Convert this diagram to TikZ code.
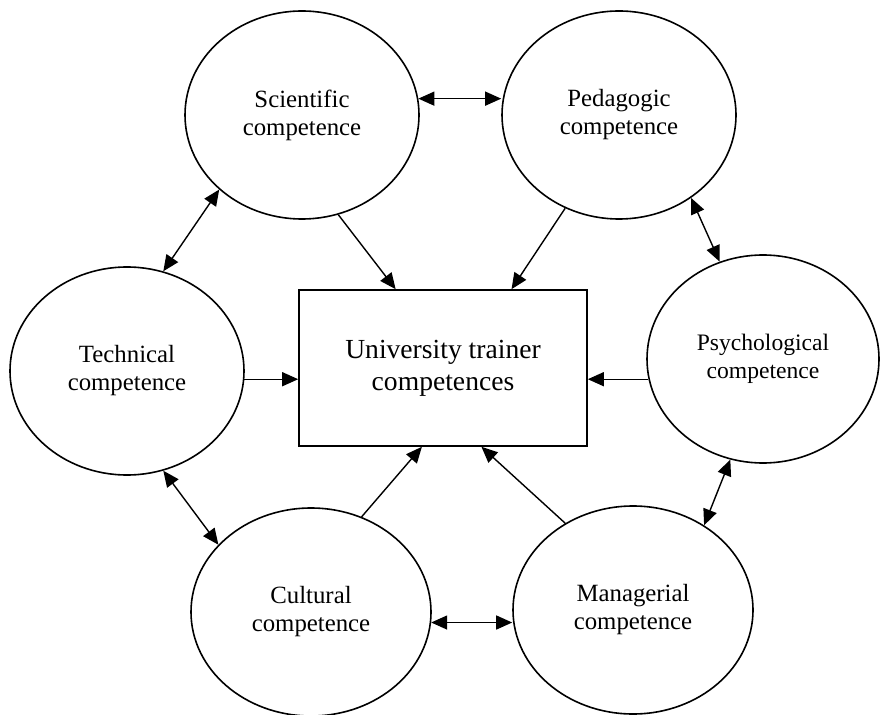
\documentclass[tikz,border=0pt]{standalone}
\usepackage{fontspec}
\setmainfont{Liberation Serif}
\usetikzlibrary{shapes.geometric,arrows.meta,calc}

\begin{document}
\begin{tikzpicture}[x=0.5pt, y=-0.5pt, >={Triangle[length=8pt,width=7pt]}]
				\tikzstyle{every node}=[align=center, inner sep=0pt]
				\tikzstyle{competence}=[draw, ellipse, line width=0.8pt, minimum width=117pt, minimum height=104pt, font=\fontsize{12.4}{14}\selectfont]
				\tikzstyle{link}=[line width=0.7pt]
				\useasboundingbox (0,0) rectangle (881,715);
				%Centre
				\node[draw, line width=0.8pt, minimum width=144pt, minimum height=78pt, font=\fontsize{13.8}{16}\selectfont](trainer) at (443,368){University trainer\\competences};
				%Top Row
				\node[competence](sci) at (302,115){Scientific\\competence};
				\node[competence](ped) at (619,115){Pedagogic\\competence};
				%Middle Row
				\node[competence](tech) at (127,371){Technical\\competence};
				\node[competence, minimum width=116pt, font=\fontsize{11.8}{14}\selectfont](psy) at (763,359){Psychological\\competence};
				%Bottom Row
				\node[competence, minimum width=120pt](cult) at (311,612){Cultural\\competence};
				\node[competence, minimum width=120pt](man) at (633,610){Managerial\\competence};
				%Ring
				\draw[link, <->] (sci.8) -- (sci.8 -| ped.west);
				\draw[link, <->] (ped.-49.5) -- (psy.114);
				\draw[link, <->] (psy.252) -- (man.50.5);
				\draw[link, <->] (cult.-5.7) -- (cult.-5.7 -| man.west);
				\draw[link, <->] (tech.-70) -- (cult.144.5);
				\draw[link, <->] (tech.70) -- (sci.-138);
				%Into the centre
				\draw[link, ->] (sci.-70.3) -- (trainer.121.6);
				\draw[link, ->] (ped.240) -- (trainer.49.3);
				\draw[link, ->] (tech.-4.4) -- (tech.-4.4 -| trainer.west);
				\draw[link, ->] (psy.190.5) -- (psy.190.5 -| trainer.east);
				\draw[link, ->] (cult.62) -- (trainer.255);
				\draw[link, ->] (man.128.3) -- (trainer.-64.6);
				\end{tikzpicture}
\end{document}
